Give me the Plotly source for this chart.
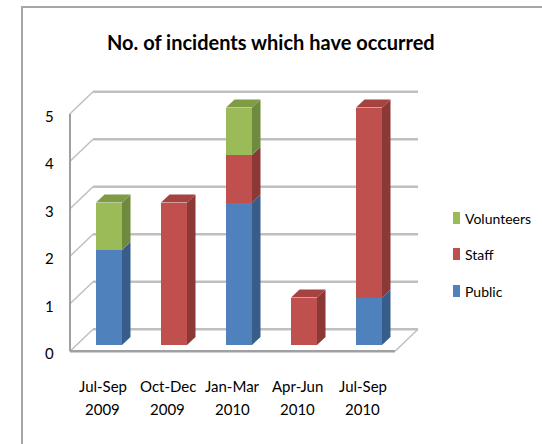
import plotly.graph_objects as go

# ---- data ----
categories = ["Jul-Sep 2009", "Oct-Dec 2009", "Jan-Mar 2010", "Apr-Jun 2010", "Jul-Sep 2010"]
public = [2, 0, 3, 0, 1]
staff = [0, 3, 1, 1, 4]
volunteers = [1, 0, 1, 0, 0]
y_ticks = [0, 1, 2, 3, 4, 5]
series_names = ["Public", "Staff", "Volunteers"]

# ---- styling ----
FONT = "Lato, Liberation Sans, sans-serif"
COLORS = {
    "Public": ("#4F81BD", "#385D8A", "#4470A6"),
    "Staff": ("#C0504D", "#8C3836", "#A6423F"),
    "Volunteers": ("#9BBB59", "#6F8A3D", "#7F9C45"),
}
GRID = "#BFBFBF"
AXIS = "#A0A0A0"

# ---- projection of the oblique 3-D box onto the flat axes ----
W, H = 542, 444
X0PX, XSTEP = 109, 65.0      # pixel of category 0 / pixels per category
Y0PX, YSTEP = 345, 47.5      # pixel of value 0 / pixels per unit
SLOPE = 0.95                 # vertical rise per horizontal depth pixel
BAR_W = 0.4
BAR_DEPTH = 8.5
FRONT, BACK = -6.5, 16.5
n = len(categories)
xs = list(range(n))
x_lo, x_hi = -0.5, n - 0.5


def P(x, v, t):
    """Point at category position x, value v, depth t (pixels)."""
    return x + t / XSTEP, v + SLOPE * t / YSTEP


fig = go.Figure()
shapes = []


def seg(p, q, color, width):
    shapes.append(dict(type="line", xref="x", yref="y", layer="below",
                       x0=p[0], y0=p[1], x1=q[0], y1=q[1],
                       line=dict(color=color, width=width)))


# walls and floor
for v in y_ticks:
    seg(P(x_lo, v, BACK), P(x_hi, v, BACK), GRID, 2.5)
    seg(P(x_lo, v, FRONT), P(x_lo, v, BACK), GRID, 1.5)
seg(P(x_lo, 0, FRONT), P(x_lo, max(y_ticks), FRONT), AXIS, 2)
seg(P(x_lo, 0, FRONT), P(x_hi, 0, FRONT), AXIS, 2.5)
seg(P(x_hi, 0, FRONT), P(x_hi, 0, BACK), GRID, 1.5)

# front faces of the stacked columns
values = {"Public": public, "Staff": staff, "Volunteers": volunteers}
for name in series_names:
    fig.add_trace(go.Bar(x=xs, y=values[name], name=name, width=BAR_W,
                         marker=dict(color=COLORS[name][0], line=dict(width=0)),
                         showlegend=False, hoverinfo="skip"))


def poly(pts, color):
    fig.add_trace(go.Scatter(x=[p[0] for p in pts] + [pts[0][0]],
                             y=[p[1] for p in pts] + [pts[0][1]],
                             mode="lines", fill="toself", fillcolor=color,
                             line=dict(width=0, color=color),
                             showlegend=False, hoverinfo="skip"))


# side and top faces
for i in xs:
    base = 0
    top_name = None
    for name in series_names:
        v = values[name][i]
        if v > 0:
            xr = i + BAR_W / 2
            poly([P(xr, base, 0), P(xr, base, BAR_DEPTH),
                  P(xr, base + v, BAR_DEPTH), P(xr, base + v, 0)], COLORS[name][1])
            top_name = name
        base += v
    if top_name:
        xl, xr = i - BAR_W / 2, i + BAR_W / 2
        poly([P(xl, base, 0), P(xr, base, 0), P(xr, base, BAR_DEPTH),
              P(xl, base, BAR_DEPTH)], COLORS[top_name][2])

annotations = []
# value axis labels
for v in y_ticks:
    px, py = P(x_lo, v, FRONT)
    annotations.append(dict(x=px, y=py, xref="x", yref="y", text=str(v),
                            showarrow=False, xanchor="right", yanchor="middle",
                            xshift=-14, yshift=-2,
                            font=dict(family=FONT, size=15, color="#000000")))
# category labels, two lines each
for i, cat in enumerate(categories):
    px, py = P(i, 0, FRONT)
    period, year = cat.split(" ")
    for line, shift in ((period, -35), (year, -58)):
        annotations.append(dict(x=px, y=py, xref="x", yref="y", text=line,
                                showarrow=False, xanchor="center", yanchor="middle",
                                yshift=shift,
                                font=dict(family=FONT, size=15, color="#000000")))

# title
annotations.append(dict(x=271 / W, y=1 - 42 / H, xref="paper", yref="paper",
                        text="<b>No. of incidents which have occurred</b>",
                        showarrow=False, xanchor="center", yanchor="middle",
                        font=dict(family=FONT, size=20, color="#000000")))

# legend
for name, ypx in zip(reversed(series_names), (218, 254, 291)):
    shapes.append(dict(type="rect", xref="paper", yref="paper",
                       x0=453 / W, x1=460 / W, y0=1 - (ypx + 6) / H, y1=1 - (ypx - 6) / H,
                       fillcolor=COLORS[name][0], line=dict(width=0)))
    annotations.append(dict(x=463 / W, y=1 - ypx / H, xref="paper", yref="paper",
                            text=name, showarrow=False, xanchor="left", yanchor="middle",
                            font=dict(family=FONT, size=14, color="#000000")))

# chart border
shapes.append(dict(type="rect", xref="paper", yref="paper",
                   x0=22 / W, x1=1.05, y0=-0.05, y1=1 - 7 / H,
                   fillcolor="rgba(0,0,0,0)", line=dict(color="#A6A6A6", width=2)))

fig.update_layout(
    width=W, height=H, margin=dict(l=0, r=0, t=0, b=0),
    paper_bgcolor="white", plot_bgcolor="white",
    barmode="stack", bargap=0,
    xaxis=dict(range=[-X0PX / XSTEP, (W - X0PX) / XSTEP], visible=False, fixedrange=True),
    yaxis=dict(range=[(Y0PX - H) / YSTEP, Y0PX / YSTEP], visible=False, fixedrange=True),
    shapes=shapes, annotations=annotations,
)

fig.write_html("out.html")
